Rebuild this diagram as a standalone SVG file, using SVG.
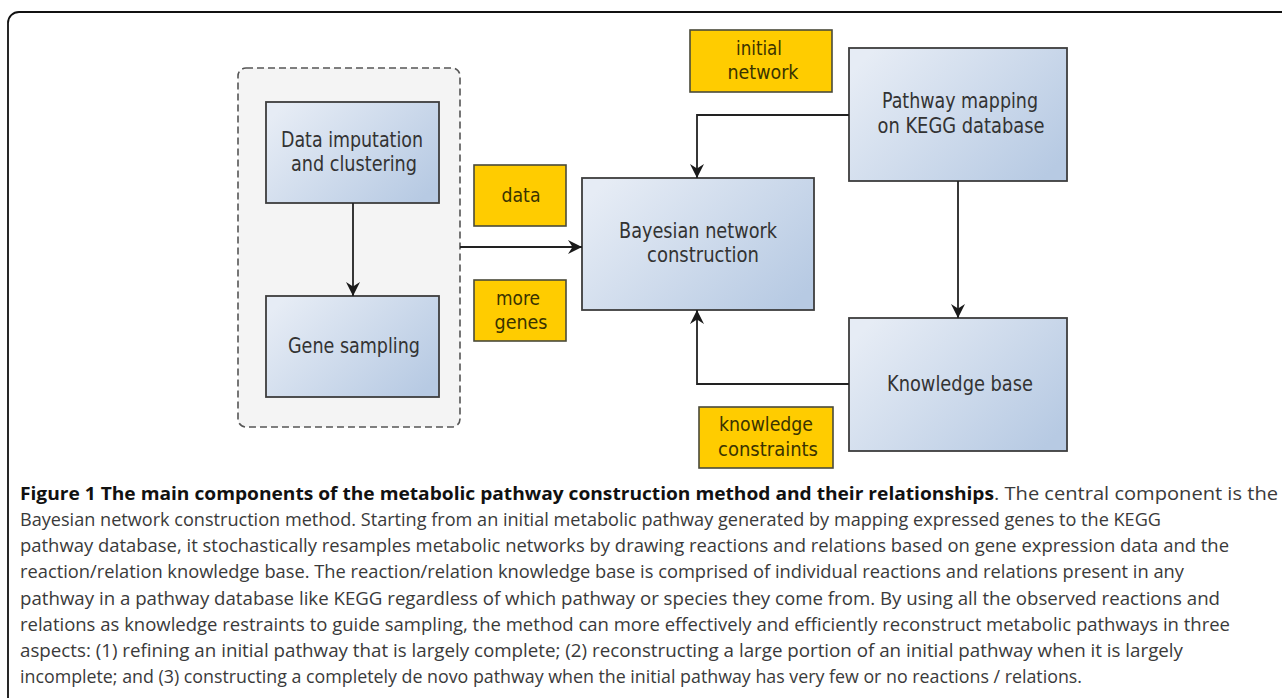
<svg xmlns="http://www.w3.org/2000/svg" width="1282" height="698" viewBox="0 0 1282 698">
<defs>
<linearGradient id="blue" x1="0" y1="0.2" x2="1" y2="0.8">
<stop offset="0" stop-color="#e6ecf5"/>
<stop offset="1" stop-color="#b7cae3"/>
</linearGradient>
<marker id="arr" viewBox="-15 -8 16 16" refX="0" refY="0" markerWidth="16" markerHeight="16" markerUnits="userSpaceOnUse" orient="auto">
<path d="M0,0 L-14,-7 L-9.5,0 L-14,7 Z" fill="#1a1a1a"/>
</marker>
<style>
.box{fill:url(#blue);stroke:#3d3d3d;stroke-width:1.8}
.ybox{fill:#ffcc00;stroke:#4a4a3a;stroke-width:1.6}
.lbl{font-family:"DejaVu Sans Condensed","DejaVu Sans",sans-serif;font-stretch:condensed;font-size:21px;fill:#333;text-anchor:middle}
.ylbl{font-family:"DejaVu Sans Condensed","DejaVu Sans",sans-serif;font-stretch:condensed;font-size:20px;fill:#3a3300;text-anchor:middle}
.conn{fill:none;stroke:#222;stroke-width:1.8;marker-end:url(#arr)}
.cap{font-family:"Open Sans","Liberation Sans",sans-serif;font-size:17.5px;fill:#3a3a3a}
.capb{font-family:"Open Sans","Liberation Sans",sans-serif;font-size:17.5px;font-weight:bold;fill:#111}
</style>
</defs>
<rect x="0" y="0" width="1282" height="698" fill="#fff"/>
<rect id="frame" x="8" y="12" width="1320" height="740" rx="11" fill="none" stroke="#111" stroke-width="1.8"/>

<g id="preprocessing">
<rect x="238" y="68" width="222" height="359" rx="8" fill="#f4f4f4" stroke="#555" stroke-width="1.6" stroke-dasharray="7,4"/>
</g>
<g id="data-imputation">
<rect class="box" x="266" y="102" width="173" height="101"/>
<text class="lbl" x="352" y="147" textLength="142" lengthAdjust="spacingAndGlyphs">Data imputation</text>
<text class="lbl" x="354" y="171" textLength="126" lengthAdjust="spacingAndGlyphs">and clustering</text>
</g>
<g id="gene-sampling">
<rect class="box" x="266" y="296" width="173" height="101"/>
<text class="lbl" x="354" y="353" textLength="132" lengthAdjust="spacingAndGlyphs">Gene sampling</text>
</g>
<g id="data">
<rect class="ybox" x="474" y="165" width="92" height="61"/>
<text class="ylbl" x="521" y="202" textLength="39" lengthAdjust="spacingAndGlyphs">data</text>
</g>
<g id="more-genes">
<rect class="ybox" x="474" y="280" width="92" height="61"/>
<text class="ylbl" x="518" y="305" textLength="44" lengthAdjust="spacingAndGlyphs">more</text>
<text class="ylbl" x="521" y="329" textLength="53" lengthAdjust="spacingAndGlyphs">genes</text>
</g>
<g id="bayesian">
<rect class="box" x="582" y="178" width="232" height="132"/>
<text class="lbl" x="698" y="238" textLength="158" lengthAdjust="spacingAndGlyphs">Bayesian network</text>
<text class="lbl" x="703" y="262" textLength="112" lengthAdjust="spacingAndGlyphs">construction</text>
</g>
<g id="initial-network">
<rect class="ybox" x="690" y="30" width="142" height="62"/>
<text class="ylbl" x="759" y="55" textLength="46" lengthAdjust="spacingAndGlyphs">initial</text>
<text class="ylbl" x="763" y="79" textLength="71" lengthAdjust="spacingAndGlyphs">network</text>
</g>
<g id="pathway-mapping">
<rect class="box" x="849" y="48" width="218" height="133"/>
<text class="lbl" x="960" y="108" textLength="156" lengthAdjust="spacingAndGlyphs">Pathway mapping</text>
<text class="lbl" x="961" y="133" textLength="167" lengthAdjust="spacingAndGlyphs">on KEGG database</text>
</g>
<g id="knowledge-base">
<rect class="box" x="849" y="318" width="218" height="133"/>
<text class="lbl" x="960" y="391" textLength="146" lengthAdjust="spacingAndGlyphs">Knowledge base</text>
</g>
<g id="knowledge-constraints">
<rect class="ybox" x="699" y="407" width="134" height="61"/>
<text class="ylbl" x="766" y="431" textLength="94" lengthAdjust="spacingAndGlyphs">knowledge</text>
<text class="ylbl" x="768" y="456" textLength="100" lengthAdjust="spacingAndGlyphs">constraints</text>
</g>

<g id="connectors">
<path class="conn" d="M353,203 V296"/>
<path class="conn" d="M460,247 H582"/>
<path class="conn" d="M849,115 H697 V178"/>
<path class="conn" d="M958,181 V318"/>
<path class="conn" d="M849,384 H697 V310"/>
</g>

<g id="caption">
<text class="capb" x="20" y="500" textLength="974" lengthAdjust="spacingAndGlyphs">Figure 1 The main components of the metabolic pathway construction method and their relationships</text>
<text class="cap" x="994" y="500" textLength="284" lengthAdjust="spacingAndGlyphs">. The central component is the</text>
<text class="cap" x="20" y="526" textLength="1141" lengthAdjust="spacingAndGlyphs">Bayesian network construction method. Starting from an initial metabolic pathway generated by mapping expressed genes to the KEGG</text>
<text class="cap" x="20" y="552" textLength="1209" lengthAdjust="spacingAndGlyphs">pathway database, it stochastically resamples metabolic networks by drawing reactions and relations based on gene expression data and the</text>
<text class="cap" x="20" y="578" textLength="1164" lengthAdjust="spacingAndGlyphs">reaction/relation knowledge base. The reaction/relation knowledge base is comprised of individual reactions and relations present in any</text>
<text class="cap" x="20" y="604.5" textLength="1200" lengthAdjust="spacingAndGlyphs">pathway in a pathway database like KEGG regardless of which pathway or species they come from. By using all the observed reactions and</text>
<text class="cap" x="20" y="630.5" textLength="1210" lengthAdjust="spacingAndGlyphs">relations as knowledge restraints to guide sampling, the method can more effectively and efficiently reconstruct metabolic pathways in three</text>
<text class="cap" x="20" y="657" textLength="1163" lengthAdjust="spacingAndGlyphs">aspects: (1) refining an initial pathway that is largely complete; (2) reconstructing a large portion of an initial pathway when it is largely</text>
<text class="cap" x="20" y="683" textLength="1062" lengthAdjust="spacingAndGlyphs">incomplete; and (3) constructing a completely de novo pathway when the initial pathway has very few or no reactions / relations.</text>
</g>
</svg>
